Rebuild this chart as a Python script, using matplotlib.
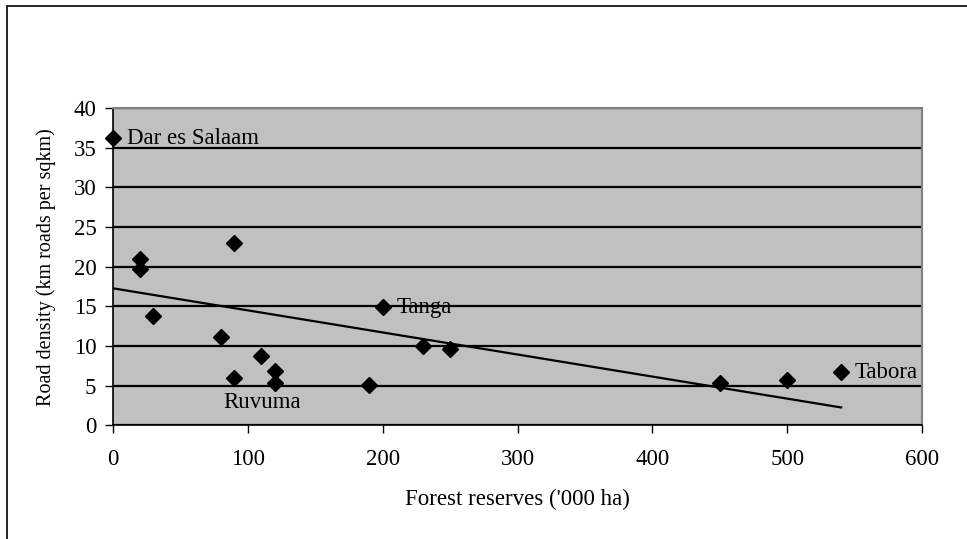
import numpy as np
import matplotlib.pyplot as plt
from matplotlib.patches import Rectangle

plt.rcParams['font.family'] = ['Liberation Serif', 'DejaVu Serif']

# forest reserve area vs road density, one point per region
forest = [0, 20, 20, 30, 90, 80, 90, 110, 120, 120, 190, 200, 230, 250, 450, 500, 540]
density = [36.2, 21.0, 19.7, 13.8, 23.0, 11.1, 6.0, 8.8, 6.9, 5.4, 5.1, 14.9, 10.0, 9.6, 5.4, 5.7, 6.7]
named = {0: 'Dar es Salaam', 11: 'Tanga', 16: 'Tabora', 6: 'Ruvuma'}

x = np.array(forest, dtype=float)
y = np.array(density, dtype=float)
slope, icpt = np.polyfit(x, y, 1)

fig = plt.figure(figsize=(9.67, 5.39), dpi=100)
ax = fig.add_axes([0.1169, 0.2106, 0.8366, 0.589])
ax.set_facecolor('#c0c0c0')

ax.set_xlim(0, 600)
ax.set_ylim(0, 40)
ax.set_xticks(range(0, 601, 100))
ax.set_yticks(range(0, 41, 5))
ax.yaxis.grid(True, color='black', lw=1.6)
ax.set_axisbelow(True)

xs = np.array([x.min(), x.max()])
ax.plot(xs, icpt + slope * xs, color='black', lw=1.6, zorder=3)
ax.plot(x, y, 'D', color='black', ms=8.5, zorder=4, clip_on=False)

offsets = {0: (10, 0), 11: (10, 0), 16: (10, 0), 6: (-8, -18)}
for i, name in named.items():
    dx, dy = offsets[i]
    ax.annotate(name, (x[i], y[i]), xytext=(dx, dy), textcoords='offset points',
                ha='left', va='center', fontsize=16.5, zorder=5)

for side in ['top', 'right']:
    ax.spines[side].set_color('#808080')
    ax.spines[side].set_linewidth(1.5)
for side in ['left', 'bottom']:
    ax.spines[side].set_color('black')
    ax.spines[side].set_linewidth(1.2)

ax.tick_params(direction='out', length=6, width=1, labelsize=16.5, colors='black')
ax.tick_params(axis='x', pad=11)
ax.tick_params(axis='y', pad=6)
ax.set_xlabel("Forest reserves ('000 ha)", fontsize=16.5)
ax.set_ylabel('Road density (km roads per sqkm)', fontsize=14.5)
ax.xaxis.set_label_coords(0.5, -0.2)
ax.yaxis.set_label_coords(-0.07, 0.5)

# chart area frame
fig.patches.append(Rectangle((7 / 967, -0.1), 1.2, 1.1 - 6 / 539, transform=fig.transFigure,
                             fill=False, edgecolor='black', lw=1.2))

fig.savefig('out.png', dpi=100)
